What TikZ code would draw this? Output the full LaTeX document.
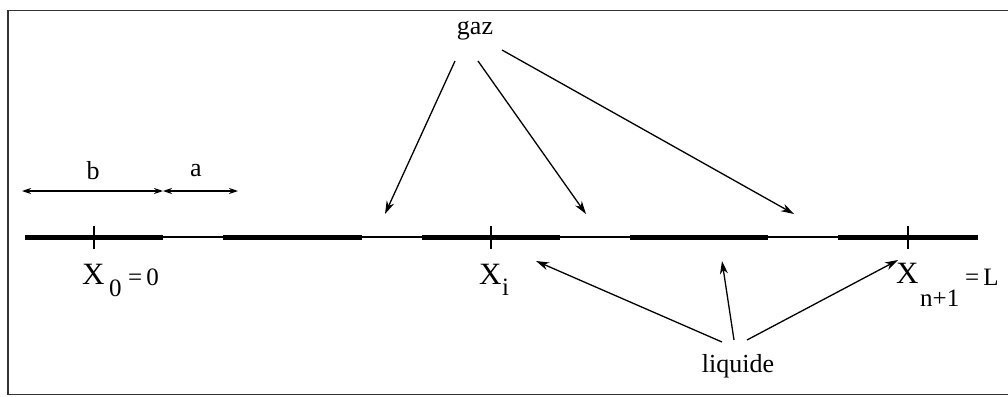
\documentclass[tikz,border=0pt]{standalone}
\usepackage{fontspec}
\setmainfont{Liberation Serif}
\usetikzlibrary{arrows.meta}
\begin{document}
\begin{tikzpicture}[x=1pt,y=-1pt,
  lbl/.style={inner sep=0pt,font=\fontsize{26}{29}\selectfont},
  bigx/.style={inner sep=0pt,anchor=base west,font=\fontsize{31}{34}\selectfont},
  subx/.style={inner sep=0pt,anchor=base west,font=\fontsize{25}{28}\selectfont},
  smallx/.style={inner sep=0pt,anchor=base west,font=\fontsize{25}{28}\selectfont},
  thickseg/.style={line width=5pt},
  thinline/.style={line width=1.6pt},
  tick/.style={line width=1.4pt},
  arr/.style={line width=1.3pt,-{Stealth[length=13pt,width=8pt,inset=4pt]}},
  dimarr/.style={line width=1.2pt,{Stealth[length=9pt,width=6pt,inset=3pt]}-{Stealth[length=9pt,width=6pt,inset=3pt]}}]
\useasboundingbox (0,0) rectangle (1008,396);
% frame
\draw[line width=1.8pt,black!80] (8,10.5) -- (1014,10.5) (8,10.5) -- (8,394.5) -- (1014,394.5);
% main line
\coordinate (L0) at (25,237);
\coordinate (L1) at (978,237);
\draw[thinline] (L0) -- (L1);
\draw[thickseg] (25,237) -- (163,237);
\draw[thickseg] (223,237) -- (362,237);
\draw[thickseg] (422,237) -- (560,237);
\draw[thickseg] (630,237) -- (768,237);
\draw[thickseg] (838,237) -- (978,237);
% ticks
\draw[tick] (94,226) -- (94,249);
\draw[tick] (491,226) -- (491,249);
\draw[tick] (908,226) -- (908,249);
% dimension arrows
\coordinate (db0) at (22,191);
\coordinate (db1) at (163,191);
\coordinate (da1) at (238,191);
\draw[dimarr] (db0) -- (db1);
\draw[dimarr] (db1) -- (da1);
\node[lbl] (b) at (93,171) {b};
\node[lbl] (a) at (196,171) {a};
% labels X
\node[bigx] (x0) at (82,284) {X};
\node[subx] (x0s) at (109,296) {0};
\node[subx] (x0e) at (128,285) {=\,0};
\node[bigx] (xi) at (479,284) {X};
\node[subx] (xis) at (502,295) {i};
\node[bigx] (xn) at (896,283) {X};
\node[smallx] (xns) at (920,306) {n+1};
\node[smallx] (xne) at (965,285) {=\,L};
% gaz
\node[lbl] (gaz) at (475,31) {gaz};
\coordinate (g1s) at (455,61);
\coordinate (g1e) at (385,214);
\coordinate (g2s) at (478,61);
\coordinate (g2e) at (586,214);
\coordinate (g3s) at (502,50);
\coordinate (g3e) at (794,214);
\draw[arr] (g1s) -- (g1e);
\draw[arr] (g2s) -- (g2e);
\draw[arr] (g3s) -- (g3e);
% liquide
\node[lbl] (liq) at (738,366) {liquide};
\coordinate (l1s) at (722,342);
\coordinate (l1e) at (536,261);
\coordinate (l2s) at (734,340);
\coordinate (l2e) at (722,261);
\coordinate (l3s) at (747,340);
\coordinate (l3e) at (898,260);
\draw[arr] (l1s) -- (l1e);
\draw[arr] (l2s) -- (l2e);
\draw[arr] (l3s) -- (l3e);
\end{tikzpicture}
\end{document}
